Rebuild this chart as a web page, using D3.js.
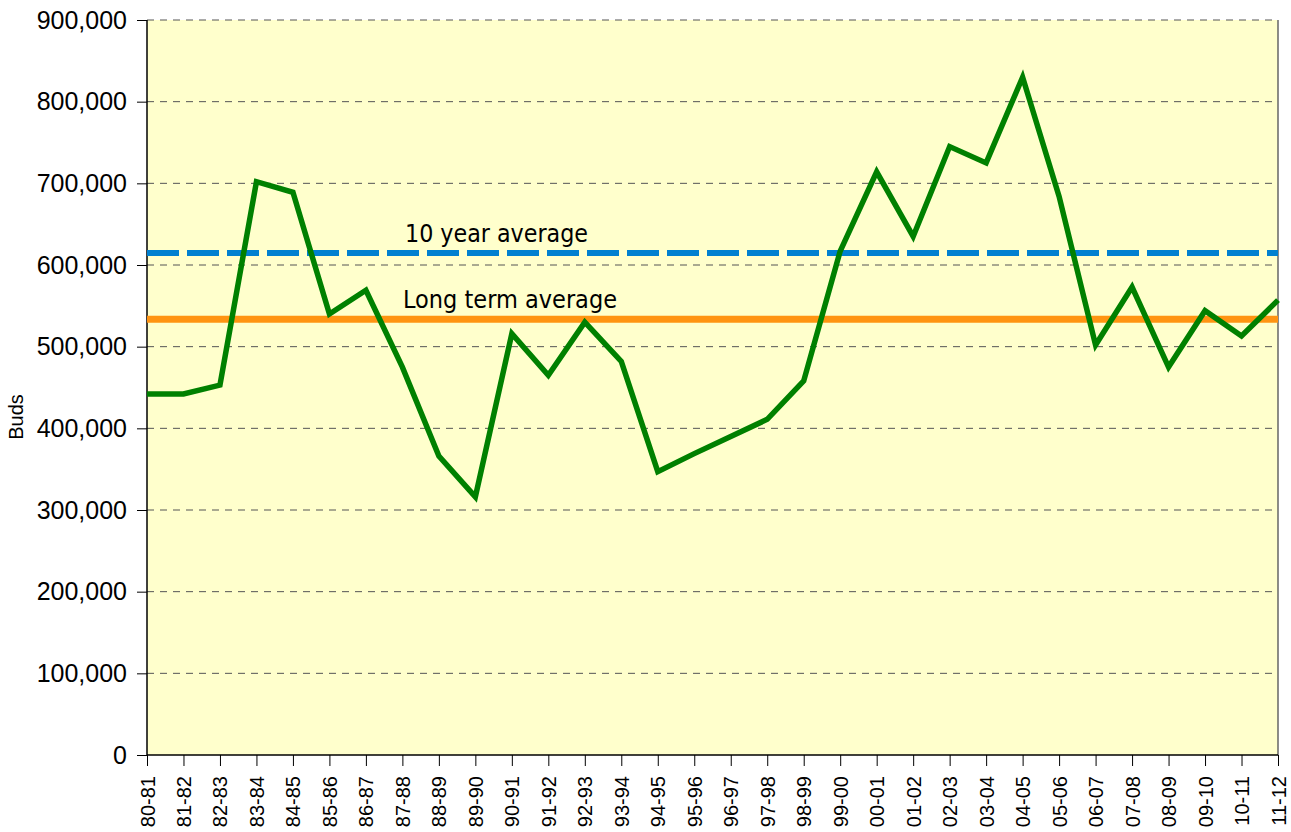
<!DOCTYPE html>
<html>
<head>
<meta charset="utf-8">
<script src="https://cdn.jsdelivr.net/npm/d3@7"></script>
<style>
  html, body { margin: 0; padding: 0; background: #ffffff; }
  svg { display: block; }
</style>
</head>
<body>
<svg id="chart" width="1291" height="832"></svg>
<script>
const seasons = ["80-81","81-82","82-83","83-84","84-85","85-86","86-87","87-88","88-89","89-90",
  "90-91","91-92","92-93","93-94","94-95","95-96","96-97","97-98","98-99","99-00",
  "00-01","01-02","02-03","03-04","04-05","05-06","06-07","07-08","08-09","09-10","10-11","11-12"];
const buds = [442000, 442000, 453000, 702000, 689000, 540000, 569000, 475000, 366000, 316000,
  516000, 465000, 530000, 482000, 347000, 369000, 390000, 411000, 458000, 617000,
  714000, 635000, 745000, 725000, 830000, 684000, 502000, 573000, 475000, 544000, 513000, 557000];
const tenYearAverage = [614700];
const longTermAverage = [533500];
const averageLabels = ["10 year average", "Long term average"];
const yTicks = [0, 100000, 200000, 300000, 400000, 500000, 600000, 700000, 800000, 900000];
const yTitle = "Buds";

const svg = d3.select("#chart");
const L = 147, R = 1278, T = 20, B = 755;

const x = d3.scalePoint().domain(seasons).range([L, R]);
const y = d3.scaleLinear().domain([0, 900000]).range([B, T]);

// plot background
svg.append("rect").attr("x", L).attr("y", T).attr("width", R - L).attr("height", B - T)
  .attr("fill", "#FFFFCC");

// gridlines
svg.append("g").selectAll("line").data(yTicks.filter(d => d > 0)).join("line")
  .attr("x1", L).attr("x2", R)
  .attr("y1", d => y(d)).attr("y2", d => y(d))
  .attr("stroke", "#555").attr("stroke-width", 1).attr("stroke-dasharray", "7,6");

// right border
svg.append("line").attr("x1", R).attr("x2", R).attr("y1", T).attr("y2", B)
  .attr("stroke", "#666").attr("stroke-width", 1.5);

// y axis
const yAxis = svg.append("g").attr("transform", `translate(${L},0)`)
  .call(d3.axisLeft(y).tickValues(yTicks).tickFormat(d3.format(",")).tickSize(10).tickPadding(10));
yAxis.select(".domain").attr("stroke", "#000").attr("stroke-width", 1.5).attr("d", `M0,${T}V${B}`);
yAxis.selectAll(".tick line").attr("stroke", "#000").attr("stroke-width", 1);
yAxis.selectAll("text").attr("font-family", "'Liberation Sans', Arial, sans-serif")
  .attr("font-size", 25).attr("fill", "#000");

// x axis
const xAxis = svg.append("g").attr("transform", `translate(0,${B})`)
  .call(d3.axisBottom(x).tickSize(11).tickSizeOuter(0));
xAxis.select(".domain").attr("stroke", "#000").attr("stroke-width", 1.5).attr("d", `M${L},0H${R}`);
xAxis.selectAll(".tick line").attr("stroke", "#000").attr("stroke-width", 1);
xAxis.selectAll("text")
  .attr("font-family", "'Liberation Sans', Arial, sans-serif")
  .attr("font-size", 20).attr("fill", "#000")
  .attr("transform", "rotate(-90)")
  .attr("text-anchor", "end")
  .attr("x", -21).attr("y", 0).attr("dy", "0.35em");

// y title
svg.append("text")
  .attr("transform", `translate(23,417) rotate(-90)`)
  .attr("text-anchor", "middle")
  .attr("font-family", "'Liberation Sans', Arial, sans-serif")
  .attr("font-size", 20).attr("fill", "#000")
  .text(yTitle);

// average lines
svg.append("line").attr("x1", L).attr("x2", R)
  .attr("y1", y(longTermAverage[0])).attr("y2", y(longTermAverage[0]))
  .attr("stroke", "#FF9412").attr("stroke-width", 7);

svg.append("line").attr("x1", L).attr("x2", R)
  .attr("y1", y(tenYearAverage[0])).attr("y2", y(tenYearAverage[0]))
  .attr("stroke", "#0080D0").attr("stroke-width", 6).attr("stroke-dasharray", "32,8");

// main series line
const line = d3.line().x((d, i) => x(seasons[i])).y(d => y(d));
svg.append("path").datum(buds)
  .attr("d", line)
  .attr("fill", "none").attr("stroke", "#008000").attr("stroke-width", 5.5)
  .attr("stroke-linejoin", "miter");

// average labels
const labelFont = "'DejaVu Sans Condensed', 'DejaVu Sans', sans-serif";
svg.append("text").attr("x", 405).attr("y", 242)
  .attr("font-family", labelFont).attr("font-size", 24).attr("fill", "#000")
  .attr("textLength", 183).attr("lengthAdjust", "spacingAndGlyphs")
  .text(averageLabels[0]);
svg.append("text").attr("x", 403).attr("y", 308)
  .attr("font-family", labelFont).attr("font-size", 24).attr("fill", "#000")
  .attr("textLength", 214).attr("lengthAdjust", "spacingAndGlyphs")
  .text(averageLabels[1]);
</script>
</body>
</html>
